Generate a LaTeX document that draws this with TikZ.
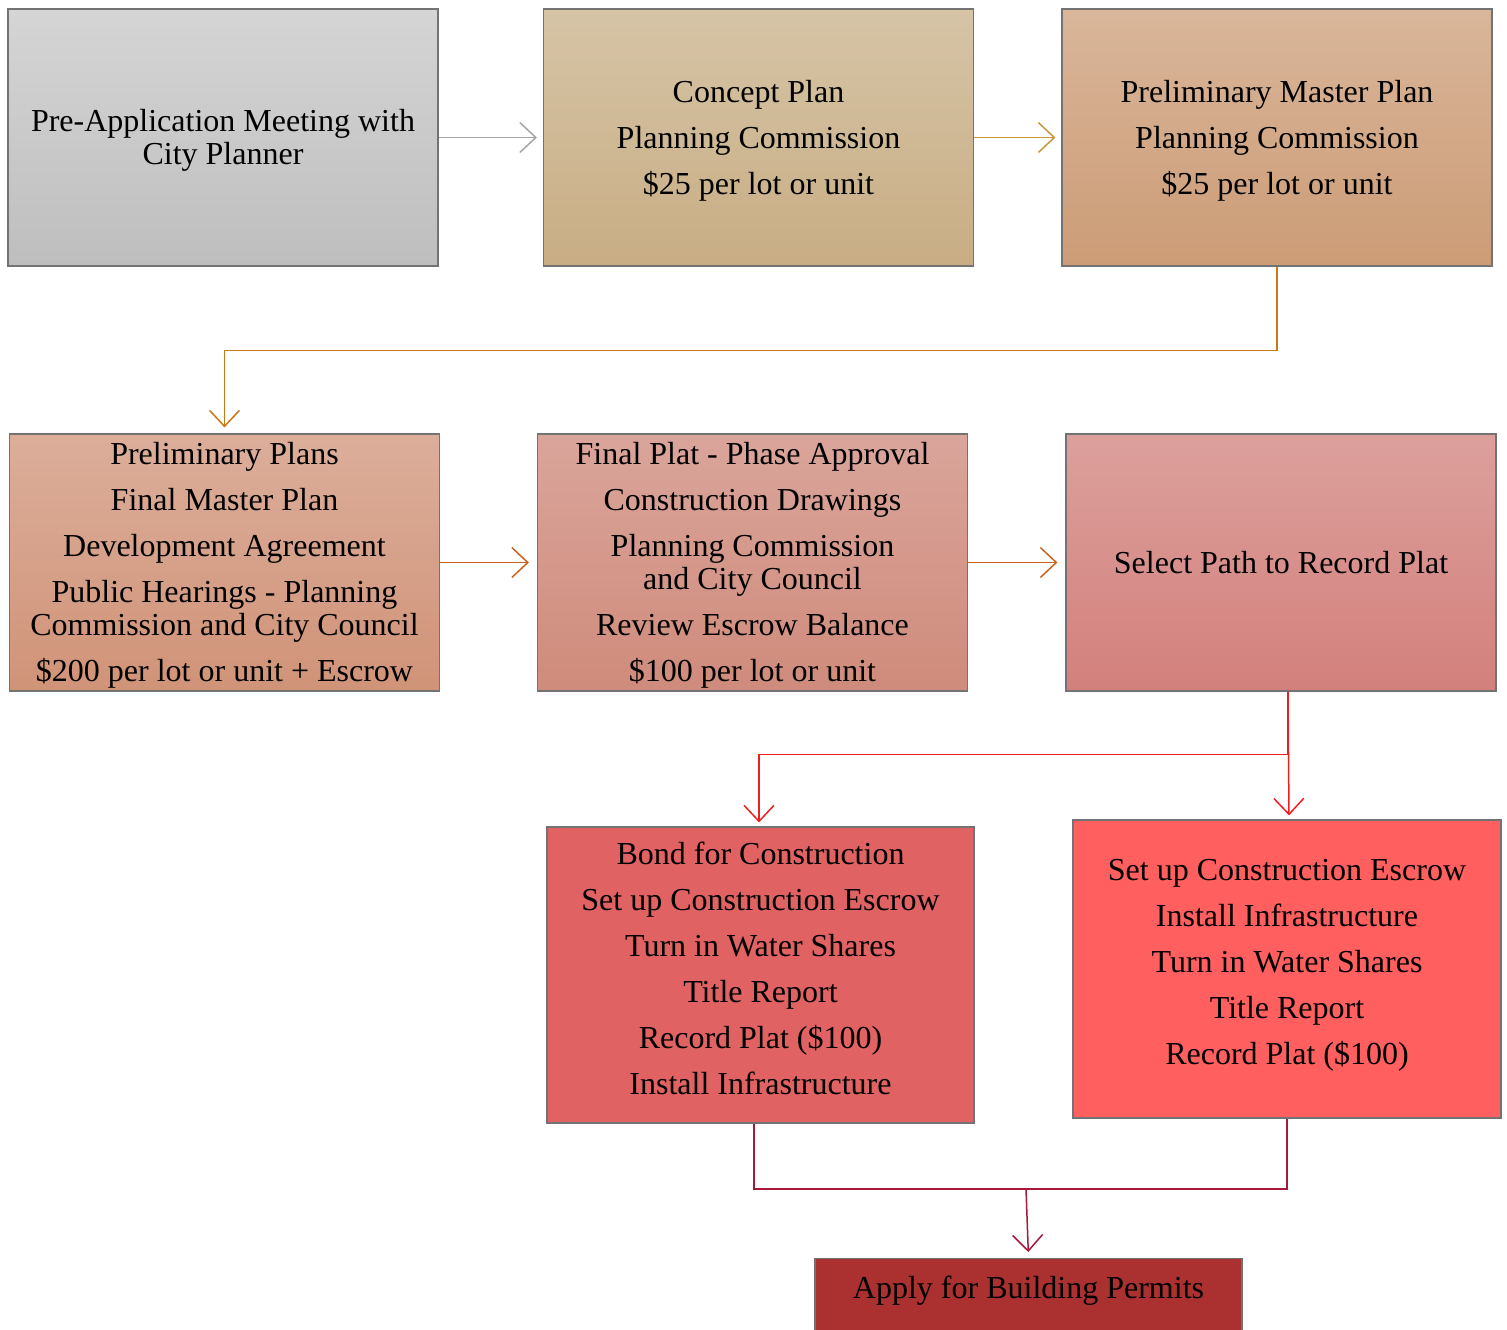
\documentclass[tikz,border=0pt]{standalone}
\usepackage{fontspec}
\setmainfont{Liberation Serif}
\usetikzlibrary{arrows.meta,positioning}
\definecolor{stepgray}{HTML}{A6A6A6}
\definecolor{stepgold}{HTML}{C8963C}
\definecolor{steporange}{HTML}{C87814}
\definecolor{steprust}{HTML}{C8641E}
\definecolor{stepred}{HTML}{F01E1E}
\definecolor{stepcrimson}{HTML}{A8183C}
\tikzset{
    %Define standard arrow tip
    >={Straight Barb[length=8pt,width=15pt]},
    box/.style={
      rectangle,
      draw=black!55, line width=0.6pt,
      minimum width=215pt,
      minimum height=128.5pt,
      align=center,
      inner sep=2pt,
      text depth=0.5pt,
      font=\fontsize{16}{16.5}\selectfont},
    link/.style={
      line width=0.75pt},
}
\newcommand{\gap}{\\[6.5pt]}

\begin{document}
\begin{tikzpicture}[x=0.5pt,y=-0.5pt]
    \useasboundingbox (0,0) rectangle (1507,1329);
    % first row
    \node (meet) [box, top color={rgb,255:red,213;green,213;blue,213}, bottom color={rgb,255:red,190;green,190;blue,190}]
          at (223,137.5) {Pre-Application Meeting with\\City Planner};
    \node (concept) [box, top color={rgb,255:red,214;green,196;blue,166}, bottom color={rgb,255:red,200;green,173;blue,132}]
          at (758.5,137.5) {Concept Plan\gap Planning Commission\gap \$25 per lot or unit};
    \node (prelim) [box, top color={rgb,255:red,217;green,182;blue,154}, bottom color={rgb,255:red,204;green,156;blue,118}]
          at (1277,137.5) {Preliminary Master Plan\gap Planning Commission\gap \$25 per lot or unit};
    % second row
    \node (plans) [box, top color={rgb,255:red,220;green,174;blue,154}, bottom color={rgb,255:red,208;green,147;blue,120}]
          at (224.5,562.5) {Preliminary Plans\gap Final Master Plan\gap Development Agreement\gap
          Public Hearings - Planning\\Commission and City Council\gap \$200 per lot or unit + Escrow};
    \node (final) [box, top color={rgb,255:red,218;green,165;blue,155}, bottom color={rgb,255:red,207;green,139;blue,123}]
          at (752.5,562.5) {Final Plat - Phase Approval\gap Construction Drawings\gap
          Planning Commission\\and City Council\gap Review Escrow Balance\gap \$100 per lot or unit};
    \node (path) [box, top color={rgb,255:red,220;green,160;blue,156}, bottom color={rgb,255:red,211;green,128;blue,124}]
          at (1281,562.5) {Select Path to Record Plat};
    \coordinate (fork) at ([xshift=3.5pt]path.south);
    % third row
    \node (bond) [box, fill={rgb,255:red,224;green,98;blue,98}, minimum width=213.5pt, minimum height=148pt,
          text depth=7pt]
          at (760.5,975) {Bond for Construction\gap Set up Construction Escrow\gap Turn in Water Shares\gap
          Title Report\gap Record Plat (\$100)\gap Install Infrastructure};
    \node (escrow) [box, fill={rgb,255:red,255;green,95;blue,95}, minimum width=214pt, minimum height=149pt,
          text depth=7.5pt]
          at (1287,969) {Set up Construction Escrow\gap Install Infrastructure\gap Turn in Water Shares\gap
          Title Report\gap Record Plat (\$100)};
    % last step
    \node (permit) [box, fill={rgb,255:red,171;green,48;blue,48}, anchor=north, minimum width=213.5pt,
          minimum height=40pt, text depth=11pt]
          at (1028.5,1258) {Apply for Building Permits};
    \coordinate (join) at (1026,1189);

    % connectors
    \draw [link, ->, stepgray, shorten >=3pt] (meet) -- (concept);
    \draw [link, ->, stepgold, shorten >=3pt] (concept) -- (prelim);
    \draw [link, ->, steporange, shorten >=3pt] (prelim.south) -- ++(0,84) -| (plans.north);
    \draw [link, ->, steprust, shorten >=4pt] (plans) -- (final);
    \draw [link, ->, steprust, shorten >=4pt] (final) -- (path);
    \draw [link, ->, stepred, shorten >=2pt] (fork) -- ++(0,63) -| ([xshift=-0.75pt]bond.north);
    \draw [link, ->, stepred, shorten >=2pt] (fork) -- ([xshift=1pt]escrow.north);
    \draw [link, stepcrimson] ([xshift=-3.25pt]bond.south) |- (join);
    \draw [link, stepcrimson] (escrow.south) |- (join);
    \draw [link, ->, stepcrimson, shorten >=3pt] (join) -- (permit.north);
\end{tikzpicture}
\end{document}
